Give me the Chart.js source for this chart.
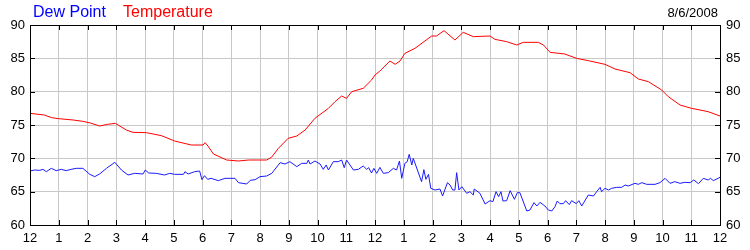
<!DOCTYPE html>
<html>
<head>
<meta charset="utf-8">
<script src="https://cdn.jsdelivr.net/npm/chart.js@4"></script>
<style>
  html, body { margin: 0; padding: 0; background: #fff; }
  #wrap { position: relative; width: 750px; height: 250px; }
  canvas { position: absolute; left: 0; top: 0; }
  .lbl { position: absolute; font-family: "Liberation Sans", Arial, sans-serif; white-space: nowrap; }
</style>
</head>
<body>
<div id="wrap">
  <canvas id="c" width="750" height="250"></canvas>
  <div class="lbl" style="left:33px; top:4px; font-size:16px; line-height:16px; color:#0000ff;">Dew Point</div>
  <div class="lbl" style="left:123px; top:4px; font-size:16px; line-height:16px; color:#ff0000;">Temperature</div>
  <div class="lbl" style="right:32px; top:6px; font-size:13px; line-height:13px; color:#000;">8/6/2008</div>
</div>
<script>
// ---- data (hours since midnight, °F) ----
const hourTicks = [0,1,2,3,4,5,6,7,8,9,10,11,12,13,14,15,16,17,18,19,20,21,22,23,24];
const hourLabels = ["12","1","2","3","4","5","6","7","8","9","10","11","12","1","2","3","4","5","6","7","8","9","10","11","12"];
const yTickValues = [60,65,70,75,80,85,90];

const tempTimes = [0,0.5,0.75,1.0,1.5,1.84,2.1,2.42,2.7,2.97,3.35,3.58,4.05,4.57,5.03,5.61,6.02,6.09,6.19,6.38,6.84,7.25,7.6,8.23,8.4,8.64,8.98,9.28,9.57,9.91,10.38,10.61,10.84,11.01,11.19,11.59,11.88,12.0,12.17,12.52,12.7,12.87,13.04,13.39,13.97,14.14,14.4,14.78,15.07,15.42,16.0,16.17,16.58,16.93,17.16,17.68,17.86,18.09,18.6,19.01,19.42,20.0,20.35,20.87,21.16,21.51,21.97,22.2,22.61,23.01,23.59,24.0];
const tempValues = [76.75,76.5,76.1,75.95,75.75,75.55,75.3,74.85,75.1,75.25,74.25,73.9,73.85,73.4,72.6,72.0,72.0,72.35,71.85,70.65,69.75,69.6,69.75,69.75,70.15,71.5,73.0,73.35,74.25,76.0,77.5,78.5,79.35,79.0,80.0,80.5,81.75,82.5,83.1,84.6,84.1,84.6,85.75,86.5,88.35,88.35,89.15,87.75,88.9,88.25,88.35,87.85,87.5,87.0,87.4,87.4,87.0,85.9,85.65,85.0,84.65,84.1,83.4,82.85,81.9,81.5,80.25,79.25,78.0,77.5,77.0,76.35];

const dewTimes = [0.0,0.16,0.34,0.45,0.57,0.74,0.91,1.09,1.26,1.43,1.61,1.84,2.08,2.25,2.42,2.66,2.95,3.18,3.41,3.64,3.93,4.01,4.13,4.39,4.68,4.86,5.03,5.34,5.39,5.5,5.73,5.9,5.98,6.07,6.18,6.3,6.55,6.78,7.13,7.25,7.54,7.66,7.83,8.0,8.23,8.41,8.7,8.87,9.04,9.28,9.45,9.63,9.68,9.74,9.91,10.09,10.2,10.3,10.38,10.55,10.72,10.84,10.93,11.01,11.25,11.42,11.59,11.71,11.78,11.88,11.96,12.06,12.17,12.29,12.46,12.64,12.75,12.85,12.93,13.04,13.12,13.19,13.28,13.33,13.62,13.7,13.77,13.86,13.94,14.09,14.26,14.35,14.52,14.61,14.7,14.78,14.84,14.92,15.02,15.19,15.3,15.42,15.45,15.65,15.83,16.0,16.1,16.21,16.3,16.38,16.45,16.58,16.7,16.85,16.95,17.04,17.28,17.39,17.53,17.63,17.74,17.91,18.03,18.15,18.26,18.34,18.43,18.55,18.63,18.76,18.84,19.0,19.09,19.19,19.42,19.6,19.71,19.83,19.88,20.0,20.12,20.23,20.41,20.58,20.7,20.81,21.04,21.16,21.28,21.45,21.74,21.91,22.09,22.26,22.43,22.61,22.78,22.96,23.09,23.25,23.42,23.59,23.67,23.77,24.0];
const dewValues = [68.1,68.25,68.2,68.35,68.0,68.5,68.15,68.35,68.15,68.35,68.5,68.5,67.6,67.25,67.65,68.5,69.4,68.25,67.5,67.75,67.65,68.25,67.8,67.75,67.5,67.75,67.6,67.6,68.0,67.65,68.0,68.1,66.8,67.4,66.85,67.0,66.65,67.0,67.0,66.35,66.15,66.7,66.8,67.25,67.35,67.75,69.35,69.15,69.5,68.75,69.25,69.25,69.75,69.15,69.6,69.15,68.35,69.0,68.25,69.5,69.5,69.75,68.6,69.75,68.25,68.35,68.85,68.35,68.6,67.8,68.5,67.75,68.65,67.75,67.85,68.5,68.25,69.6,67.0,69.25,69.5,70.6,69.0,70.0,66.5,68.3,66.85,67.6,65.5,65.25,65.4,64.35,66.35,66.0,65.25,65.25,67.85,65.25,65.75,64.75,65.0,64.5,65.4,64.75,63.15,63.65,63.5,65.0,64.25,65.0,63.6,63.65,65.15,63.85,64.85,64.85,62.1,62.25,63.35,62.85,63.4,62.85,62.25,62.1,62.75,63.6,63.2,63.2,63.65,63.05,63.65,63.2,63.65,62.85,64.5,64.35,65.0,65.65,65.0,65.5,65.25,65.5,65.65,65.65,66.0,65.85,66.25,66.1,66.35,66.1,66.1,66.35,67.0,66.25,66.5,66.25,66.4,66.35,66.75,66.2,67.0,66.75,67.0,66.65,67.15];

const FONT = { family: '"Liberation Sans", Arial, sans-serif', size: 13 };
const GRID = '#c8c8c8';

const frameTicks = {
  id: 'frameTicks',
  afterDraw(chart) {
    const { ctx, chartArea: a, scales } = chart;
    ctx.save();
    ctx.strokeStyle = '#000';
    ctx.lineWidth = 1;
    ctx.beginPath();
    ctx.rect(Math.round(a.left) + 0.5, Math.round(a.top) + 0.5,
             Math.round(a.right - a.left), Math.round(a.bottom - a.top));
    ctx.stroke();
    ctx.beginPath();
    hourTicks.forEach(v => {
      const x = Math.round(scales.x.getPixelForValue(v)) + 0.5;
      ctx.moveTo(x, a.top); ctx.lineTo(x, a.top + 5);
      ctx.moveTo(x, a.bottom); ctx.lineTo(x, a.bottom - 5);
    });
    yTickValues.forEach(v => {
      const y = Math.round(scales.y.getPixelForValue(v)) + 0.5;
      ctx.moveTo(a.left, y); ctx.lineTo(a.left + 5, y);
      ctx.moveTo(a.right, y); ctx.lineTo(a.right - 5, y);
    });
    ctx.stroke();
    ctx.restore();
  }
};

new Chart(document.getElementById('c'), {
  type: 'line',
  data: {
    datasets: [
      {
        label: 'Temperature',
        data: tempTimes.map((t, i) => ({ x: t, y: tempValues[i] })),
        borderColor: '#ff0000',
        borderWidth: 1,
        pointRadius: 0,
        tension: 0,
        yAxisID: 'y'
      },
      {
        label: 'Dew Point',
        data: dewTimes.map((t, i) => ({ x: t, y: dewValues[i] })),
        borderColor: '#1a1aff',
        borderWidth: 1,
        pointRadius: 0,
        tension: 0,
        yAxisID: 'y'
      }
    ]
  },
  options: {
    responsive: false,
    animation: false,
    events: [],
    layout: { padding: { top: 25, left: 0, right: 0, bottom: 0 } },
    plugins: { legend: { display: false }, tooltip: { enabled: false } },
    scales: {
      x: {
        type: 'linear',
        min: 0, max: 24,
        afterBuildTicks: s => { s.ticks = hourTicks.map(v => ({ value: v })); },
        ticks: {
          autoSkip: false, maxRotation: 0,
          callback: (v) => hourLabels[hourTicks.indexOf(v)],
          color: '#000', font: FONT, padding: 6
        },
        grid: { color: GRID, drawTicks: false },
        border: { color: '#000' },
        afterFit: s => { s.height = 25; }
      },
      y: {
        position: 'left',
        min: 60, max: 90,
        afterBuildTicks: s => { s.ticks = yTickValues.map(v => ({ value: v })); },
        ticks: { color: '#000', font: FONT, padding: 5 },
        grid: { color: GRID, drawTicks: false },
        border: { color: '#000' },
        afterFit: s => { s.width = 30; }
      },
      y2: {
        position: 'right',
        min: 60, max: 90,
        afterBuildTicks: s => { s.ticks = yTickValues.map(v => ({ value: v })); },
        ticks: { color: '#000', font: FONT, padding: 6 },
        grid: { display: false, drawTicks: false },
        border: { color: '#000' },
        afterFit: s => { s.width = 30; }
      }
    }
  },
  plugins: [frameTicks]
});
</script>
</body>
</html>
